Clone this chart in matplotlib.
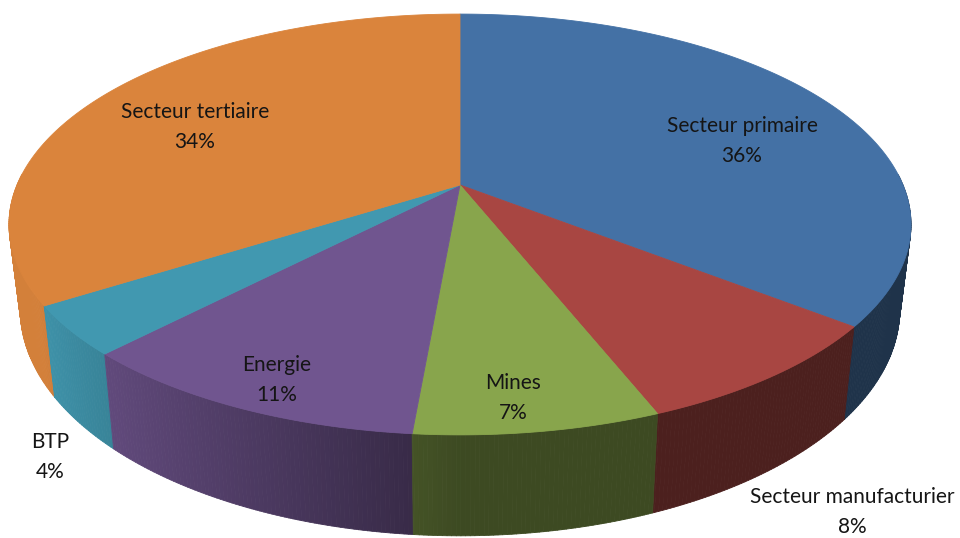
# 3D-style pie: sector shares (Excel look), drawn with a small perspective projection
import numpy as np
import matplotlib
matplotlib.use('Agg')
import matplotlib.pyplot as plt
from matplotlib.collections import PolyCollection

plt.rcParams['font.family'] = ['Lato', 'DejaVu Sans']

# data, clockwise from 12 o'clock
sectors = ['Secteur primaire', 'Secteur manufacturier', 'Mines', 'Energie', 'BTP', 'Secteur tertiaire']
shares = [35.6, 8.4, 7.4, 10.8, 3.8, 34.0]
colors = ['#4471A5', '#A84642', '#88A54C', '#70558F', '#4198B0', '#DA843C']

# layout (pixels): pie centre, radii, perspective, wall depth
CX, CY = 460, 185
A, B, K = 443, 203, 0.1876
DEPTH, SHRINK = 82, 0.975
# label anchors (pixels)
label_xy = [(742, 141), (852, 512), (513, 398), (277, 380), (50, 457), (195, 127)]


def top(theta, r=1.0):
    u, v = r * np.sin(theta), r * np.cos(theta)
    w = 1 + K * v
    return CX + A * u / w, CY - B * v / w


def bottom(theta):
    x, y = top(theta)
    w = 1 + K * np.cos(theta)
    return CX + SHRINK * (x - CX), y + DEPTH / w


def shade(hexcol, f):
    c = np.array(matplotlib.colors.to_rgb(hexcol))
    return tuple(np.clip(c * f, 0, 1))


fig = plt.figure(figsize=(9.6, 5.38), dpi=100)
ax = fig.add_axes([0, 0, 1, 1])
ax.set_xlim(0, 960)
ax.set_ylim(538, 0)
ax.axis('off')

total = sum(shares)
bounds = np.concatenate([[0], np.cumsum(shares)]) / total * 2 * np.pi

# side wall: thin strips, far ones first
strips, scols, depth = [], [], []
step = np.radians(0.5)
for i, col in enumerate(colors):
    a0, a1 = bounds[i], bounds[i + 1]
    t = np.arange(a0, a1, step)
    t = np.append(t, a1)
    for t1, t2 in zip(t[:-1], t[1:]):
        tm = 0.5 * (t1 + t2)
        if np.cos(tm) > 0.05:
            continue
        quad = [top(t1), top(t2), bottom(t2), bottom(t1)]
        f = np.clip(0.45 + 0.6 * max(0.0, -np.sin(tm)), 0.45, 0.97)
        strips.append(quad)
        scols.append(shade(col, f))
        depth.append(np.cos(tm))
order = np.argsort(depth)[::-1]
ax.add_collection(PolyCollection([strips[j] for j in order],
                                 facecolors=[scols[j] for j in order],
                                 edgecolors=[scols[j] for j in order], linewidths=0.6))

# top faces
for i, col in enumerate(colors):
    t = np.linspace(bounds[i], bounds[i + 1], 200)
    xs, ys = top(t)
    poly = np.vstack([[CX, CY], np.column_stack([xs, ys])])
    ax.fill(poly[:, 0], poly[:, 1], color=col, lw=0.6, ec=col)

for name, val, (x, y) in zip(sectors, shares, label_xy):
    ax.text(x, y, f'{name}\n{round(val)}%', ha='center', va='center',
            fontsize=15, color='#151515', linespacing=1.6)

fig.savefig('out.png', dpi=100)
